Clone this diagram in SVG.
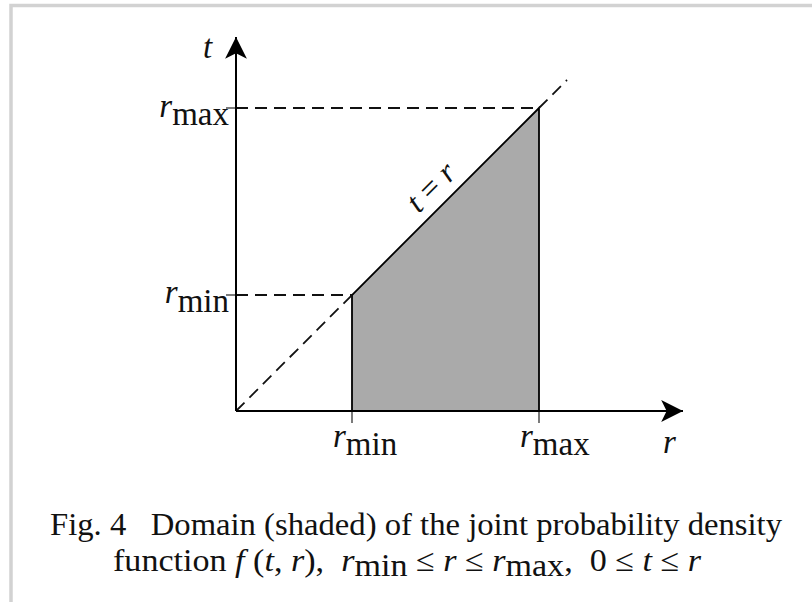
<svg xmlns="http://www.w3.org/2000/svg" width="812" height="602" viewBox="0 0 812 602">
<defs>
<marker id="arr" markerUnits="userSpaceOnUse" markerWidth="24" markerHeight="24" refX="20" refY="10" orient="auto" viewBox="0 0 22 20">
<path d="M0,0 L20,10 L0,20 L5,10 Z" fill="#000"/>
</marker>
</defs>
<rect x="11" y="5.5" width="830" height="640" fill="none" stroke="#d2d2d2" stroke-width="3.5"/>
<g id="domain">
<polygon points="352,411 352,295 539,108 539,411" fill="#aaaaaa" stroke="none"/>
<path d="M352,411 L352,295 L539,108 L539,411" fill="none" stroke="#000" stroke-width="1.8"/>
</g>
<g id="connectors" fill="none">
<g stroke="#111" stroke-width="1.8" stroke-dasharray="12 7">
<line x1="236" y1="411" x2="352" y2="295"/>
<line x1="539" y1="108" x2="567" y2="80"/>
<line x1="236" y1="295" x2="352" y2="295"/>
<line x1="236" y1="108" x2="539" y2="108"/>
</g>
<g stroke="#333" stroke-width="1.3">
<line x1="226" y1="295" x2="236" y2="295"/>
<line x1="226" y1="108" x2="236" y2="108"/>
<line x1="352" y1="411" x2="352" y2="423"/>
<line x1="539" y1="411" x2="539" y2="423"/>
</g>
<g stroke="#000" stroke-width="2">
<line x1="236" y1="411" x2="236" y2="37" marker-end="url(#arr)"/>
<line x1="236" y1="411" x2="683" y2="411" marker-end="url(#arr)"/>
</g>
</g>
<g id="labels" fill="#111">
<text font-family="Liberation Serif, serif" font-size="33" font-style="italic" x="203" y="58">t</text>
<text font-family="Liberation Serif, serif" font-size="33" x="229" y="117" text-anchor="end"><tspan font-style="italic">r</tspan><tspan dy="8">max</tspan></text>
<text font-family="Liberation Serif, serif" font-size="33" x="229" y="303" text-anchor="end"><tspan font-style="italic">r</tspan><tspan dy="9">min</tspan></text>
<text font-family="Liberation Serif, serif" font-size="33" x="333" y="447"><tspan font-style="italic">r</tspan><tspan dy="8">min</tspan></text>
<text font-family="Liberation Serif, serif" font-size="33" x="520" y="447"><tspan font-style="italic">r</tspan><tspan dy="8">max</tspan></text>
<text font-family="Liberation Serif, serif" font-size="33" font-style="italic" x="663" y="453">r</text>
<text font-family="Liberation Serif, serif" font-size="32" x="432" y="197" text-anchor="middle" transform="rotate(-45 432 188)"><tspan font-style="italic">t</tspan> = <tspan font-style="italic">r</tspan></text>
</g>
<g id="caption" fill="#111">
<text font-family="Liberation Serif, serif" font-size="32" x="50" y="535" xml:space="preserve" textLength="732" lengthAdjust="spacingAndGlyphs">Fig. 4   Domain (shaded) of the joint probability density</text>
<text font-family="Liberation Serif, serif" font-size="32" x="113" y="571" xml:space="preserve" textLength="588" lengthAdjust="spacingAndGlyphs">function <tspan font-style="italic">f</tspan> (<tspan font-style="italic">t</tspan>, <tspan font-style="italic">r</tspan>),  <tspan font-style="italic">r</tspan><tspan dy="5">min</tspan><tspan dy="-5"> ≤ </tspan><tspan font-style="italic">r</tspan> ≤ <tspan font-style="italic">r</tspan><tspan dy="5">max</tspan><tspan dy="-5">,  0 ≤ </tspan><tspan font-style="italic">t</tspan> ≤ <tspan font-style="italic">r</tspan></text>
</g>
</svg>
